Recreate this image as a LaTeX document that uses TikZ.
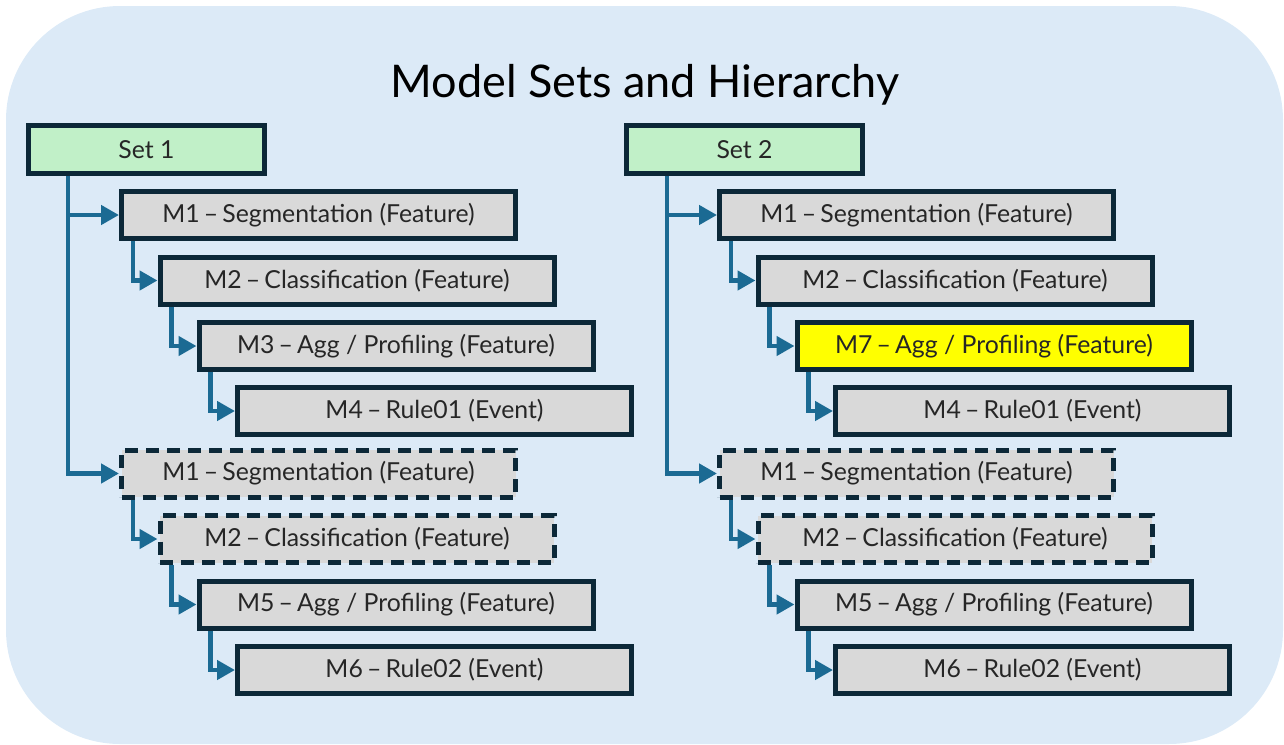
\documentclass[tikz,border=0pt]{standalone}
\usepackage{fontspec}
\setmainfont{Lato}
\usetikzlibrary{arrows.meta,calc}
\definecolor{bgblue}{HTML}{DCEAF7}
\definecolor{boxline}{HTML}{0C2838}
\definecolor{boxgrey}{HTML}{D9D9D9}
\definecolor{setgreen}{HTML}{C1F0C8}
\definecolor{hiyellow}{HTML}{FFFF00}
\definecolor{connblue}{HTML}{1B6A93}
\definecolor{txtgrey}{HTML}{262626}
\tikzset{
  mbox/.style={draw=boxline, line width=2.5pt, fill=boxgrey, anchor=west,
    minimum width=197pt, minimum height=23.5pt, inner sep=0pt,
    text=txtgrey, font=\fontsize{12.4}{14}\selectfont},
  setbox/.style={mbox, fill=setgreen, minimum width=118pt, minimum height=24pt},
  dbox/.style={mbox, dash pattern=on 6.5pt off 4pt},
  ybox/.style={mbox, fill=hiyellow},
  conn/.style={draw=connblue, line width=2.3pt, -{Triangle[length=9pt,width=9.5pt]}},
}
\newcommand{\md}{\,–\,}
\begin{document}
\begin{tikzpicture}[x=0.5pt,y=-0.5pt]
\useasboundingbox (0,0) rectangle (1284,744);
\fill[bgblue, rounded corners=57pt] (6,6) rectangle (1283,744);
\node[font=\fontsize{22.5}{26}\selectfont, text=black] (title) at (645,85) {Model Sets and Hierarchy};

% Column 1
\node[setbox] (s1) at (26,149.5) {Set 1};
\node[mbox] (a1) at (119,215) {M1\md Segmentation (Feature)};
\node[mbox] (a2) at (157.5,280.5) {M2\md Classification (Feature)};
\node[mbox] (a3) at (196.5,346) {M3\md Agg / Profiling (Feature)};
\node[mbox] (a4) at (235,411) {M4\md Rule01 (Event)};
\node[dbox] (b1) at (119,473.5) {M1\md Segmentation (Feature)};
\node[dbox] (b2) at (157.5,539) {M2\md Classification (Feature)};
\node[mbox] (b3) at (196.5,604.5) {M5\md Agg / Profiling (Feature)};
\node[mbox] (b4) at (235,670) {M6\md Rule02 (Event)};

\coordinate (t1) at ($(s1.south west)+(42,0)$);
\draw[conn] (t1) |- (a1.west);
\draw[conn] (t1) |- (b1.west);
\draw[conn] ($(a1.south west)+(14,0)$) |- (a2.west);
\draw[conn] ($(a2.south west)+(14,0)$) |- (a3.west);
\draw[conn] ($(a3.south west)+(14,0)$) |- (a4.west);
\draw[conn] ($(b1.south west)+(14,0)$) |- (b2.west);
\draw[conn] ($(b2.south west)+(14,0)$) |- (b3.west);
\draw[conn] ($(b3.south west)+(14,0)$) |- (b4.west);

% Column 2
\node[setbox] (s2) at (624,149.5) {Set 2};
\node[mbox] (c1) at (717,215) {M1\md Segmentation (Feature)};
\node[mbox] (c2) at (755.5,280.5) {M2\md Classification (Feature)};
\node[ybox] (c3) at (794.5,346) {M7\md Agg / Profiling (Feature)};
\node[mbox] (c4) at (833,411) {M4\md Rule01 (Event)};
\node[dbox] (d1) at (717,473.5) {M1\md Segmentation (Feature)};
\node[dbox] (d2) at (755.5,539) {M2\md Classification (Feature)};
\node[mbox] (d3) at (794.5,604.5) {M5\md Agg / Profiling (Feature)};
\node[mbox] (d4) at (833,670) {M6\md Rule02 (Event)};

\coordinate (t2) at ($(s2.south west)+(43,0)$);
\draw[conn] (t2) |- (c1.west);
\draw[conn] (t2) |- (d1.west);
\draw[conn] ($(c1.south west)+(14,0)$) |- (c2.west);
\draw[conn] ($(c2.south west)+(14,0)$) |- (c3.west);
\draw[conn] ($(c3.south west)+(14,0)$) |- (c4.west);
\draw[conn] ($(d1.south west)+(14,0)$) |- (d2.west);
\draw[conn] ($(d2.south west)+(14,0)$) |- (d3.west);
\draw[conn] ($(d3.south west)+(14,0)$) |- (d4.west);
\end{tikzpicture}
\end{document}
